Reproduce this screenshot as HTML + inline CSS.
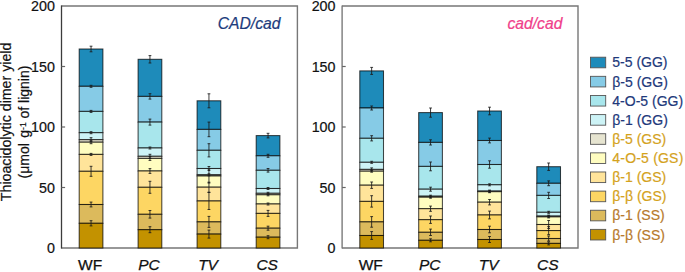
<!DOCTYPE html>
<html><head><meta charset="utf-8"><style>
html,body{margin:0;padding:0;background:#fff;}
body{width:685px;height:272px;overflow:hidden;font-family:"Liberation Sans", sans-serif;}
svg{display:block;}
</style></head><body>
<svg width="685" height="272" viewBox="0 0 685 272" font-family="'Liberation Sans', sans-serif">
<rect width="685" height="272" fill="#fff"/>
<path d="M61.5 6.0H297.4V248.0H61.5" fill="none" stroke="#777" stroke-width="1.4"/>
<rect x="79.20" y="49.00" width="23.70" height="37.30" fill="#1E8BBA" stroke="#000" stroke-opacity="0.72" stroke-width="1.05"/>
<rect x="79.20" y="86.30" width="23.70" height="25.10" fill="#86CBE6" stroke="#000" stroke-opacity="0.72" stroke-width="1.05"/>
<rect x="79.20" y="111.40" width="23.70" height="21.30" fill="#A8E6EC" stroke="#000" stroke-opacity="0.72" stroke-width="1.05"/>
<rect x="79.20" y="132.70" width="23.70" height="7.00" fill="#CDF3F6" stroke="#000" stroke-opacity="0.72" stroke-width="1.05"/>
<rect x="79.20" y="139.70" width="23.70" height="2.50" fill="#E6E4D0" stroke="#000" stroke-opacity="0.72" stroke-width="1.05"/>
<rect x="79.20" y="142.20" width="23.70" height="12.20" fill="#FFFDC0" stroke="#000" stroke-opacity="0.72" stroke-width="1.05"/>
<rect x="79.20" y="154.40" width="23.70" height="16.90" fill="#FFE49A" stroke="#000" stroke-opacity="0.72" stroke-width="1.05"/>
<rect x="79.20" y="171.30" width="23.70" height="33.20" fill="#FDD663" stroke="#000" stroke-opacity="0.72" stroke-width="1.05"/>
<rect x="79.20" y="204.50" width="23.70" height="18.80" fill="#DCBA5C" stroke="#000" stroke-opacity="0.72" stroke-width="1.05"/>
<rect x="79.20" y="223.30" width="23.70" height="24.70" fill="#C39200" stroke="#000" stroke-opacity="0.72" stroke-width="1.05"/>
<path d="M91.05 46.20V51.80M89.65 46.20h2.8M89.65 51.80h2.8" stroke="#1a1a1a" stroke-width="0.85" fill="none"/>
<path d="M91.05 85.30V87.30M89.65 85.30h2.8M89.65 87.30h2.8" stroke="#1a1a1a" stroke-width="0.85" fill="none"/>
<path d="M91.05 110.40V112.40M89.65 110.40h2.8M89.65 112.40h2.8" stroke="#1a1a1a" stroke-width="0.85" fill="none"/>
<path d="M91.05 131.70V133.70M89.65 131.70h2.8M89.65 133.70h2.8" stroke="#1a1a1a" stroke-width="0.85" fill="none"/>
<path d="M91.05 137.70V141.70M89.65 137.70h2.8M89.65 141.70h2.8" stroke="#1a1a1a" stroke-width="0.85" fill="none"/>
<path d="M91.05 140.70V143.70M89.65 140.70h2.8M89.65 143.70h2.8" stroke="#1a1a1a" stroke-width="0.85" fill="none"/>
<path d="M91.05 153.40V155.40M89.65 153.40h2.8M89.65 155.40h2.8" stroke="#1a1a1a" stroke-width="0.85" fill="none"/>
<path d="M91.05 166.30V176.30M89.65 166.30h2.8M89.65 176.30h2.8" stroke="#1a1a1a" stroke-width="0.85" fill="none"/>
<path d="M91.05 202.10V206.90M89.65 202.10h2.8M89.65 206.90h2.8" stroke="#1a1a1a" stroke-width="0.85" fill="none"/>
<path d="M91.05 220.70V225.90M89.65 220.70h2.8M89.65 225.90h2.8" stroke="#1a1a1a" stroke-width="0.85" fill="none"/>
<text x="90.15" y="270.1" font-size="15.5" text-anchor="middle" fill="#111" stroke="#111" stroke-width="0.25">WF</text>
<rect x="138.10" y="59.30" width="23.70" height="37.10" fill="#1E8BBA" stroke="#000" stroke-opacity="0.72" stroke-width="1.05"/>
<rect x="138.10" y="96.40" width="23.70" height="25.70" fill="#86CBE6" stroke="#000" stroke-opacity="0.72" stroke-width="1.05"/>
<rect x="138.10" y="122.10" width="23.70" height="25.90" fill="#A8E6EC" stroke="#000" stroke-opacity="0.72" stroke-width="1.05"/>
<rect x="138.10" y="148.00" width="23.70" height="8.30" fill="#CDF3F6" stroke="#000" stroke-opacity="0.72" stroke-width="1.05"/>
<rect x="138.10" y="156.30" width="23.70" height="2.10" fill="#E6E4D0" stroke="#000" stroke-opacity="0.72" stroke-width="1.05"/>
<rect x="138.10" y="158.40" width="23.70" height="12.60" fill="#FFFDC0" stroke="#000" stroke-opacity="0.72" stroke-width="1.05"/>
<rect x="138.10" y="171.00" width="23.70" height="16.30" fill="#FFE49A" stroke="#000" stroke-opacity="0.72" stroke-width="1.05"/>
<rect x="138.10" y="187.30" width="23.70" height="27.00" fill="#FDD663" stroke="#000" stroke-opacity="0.72" stroke-width="1.05"/>
<rect x="138.10" y="214.30" width="23.70" height="15.40" fill="#DCBA5C" stroke="#000" stroke-opacity="0.72" stroke-width="1.05"/>
<rect x="138.10" y="229.70" width="23.70" height="18.30" fill="#C39200" stroke="#000" stroke-opacity="0.72" stroke-width="1.05"/>
<path d="M149.95 55.60V63.00M148.55 55.60h2.8M148.55 63.00h2.8" stroke="#1a1a1a" stroke-width="0.85" fill="none"/>
<path d="M149.95 93.70V99.10M148.55 93.70h2.8M148.55 99.10h2.8" stroke="#1a1a1a" stroke-width="0.85" fill="none"/>
<path d="M149.95 119.10V125.10M148.55 119.10h2.8M148.55 125.10h2.8" stroke="#1a1a1a" stroke-width="0.85" fill="none"/>
<path d="M149.95 147.00V149.00M148.55 147.00h2.8M148.55 149.00h2.8" stroke="#1a1a1a" stroke-width="0.85" fill="none"/>
<path d="M149.95 154.30V158.30M148.55 154.30h2.8M148.55 158.30h2.8" stroke="#1a1a1a" stroke-width="0.85" fill="none"/>
<path d="M149.95 156.40V160.40M148.55 156.40h2.8M148.55 160.40h2.8" stroke="#1a1a1a" stroke-width="0.85" fill="none"/>
<path d="M149.95 168.60V173.40M148.55 168.60h2.8M148.55 173.40h2.8" stroke="#1a1a1a" stroke-width="0.85" fill="none"/>
<path d="M149.95 181.30V193.30M148.55 181.30h2.8M148.55 193.30h2.8" stroke="#1a1a1a" stroke-width="0.85" fill="none"/>
<path d="M149.95 210.50V218.10M148.55 210.50h2.8M148.55 218.10h2.8" stroke="#1a1a1a" stroke-width="0.85" fill="none"/>
<path d="M149.95 226.70V232.70M148.55 226.70h2.8M148.55 232.70h2.8" stroke="#1a1a1a" stroke-width="0.85" fill="none"/>
<text x="149.05" y="270.1" font-size="15.5" text-anchor="middle" font-style="italic" fill="#111" stroke="#111" stroke-width="0.25">PC</text>
<rect x="197.10" y="100.80" width="23.70" height="28.60" fill="#1E8BBA" stroke="#000" stroke-opacity="0.72" stroke-width="1.05"/>
<rect x="197.10" y="129.40" width="23.70" height="20.90" fill="#86CBE6" stroke="#000" stroke-opacity="0.72" stroke-width="1.05"/>
<rect x="197.10" y="150.30" width="23.70" height="18.20" fill="#A8E6EC" stroke="#000" stroke-opacity="0.72" stroke-width="1.05"/>
<rect x="197.10" y="168.50" width="23.70" height="6.30" fill="#CDF3F6" stroke="#000" stroke-opacity="0.72" stroke-width="1.05"/>
<rect x="197.10" y="174.80" width="23.70" height="1.20" fill="#E6E4D0" stroke="#000" stroke-opacity="0.72" stroke-width="1.05"/>
<rect x="197.10" y="176.00" width="23.70" height="11.20" fill="#FFFDC0" stroke="#000" stroke-opacity="0.72" stroke-width="1.05"/>
<rect x="197.10" y="187.20" width="23.70" height="13.80" fill="#FFE49A" stroke="#000" stroke-opacity="0.72" stroke-width="1.05"/>
<rect x="197.10" y="201.00" width="23.70" height="20.90" fill="#FDD663" stroke="#000" stroke-opacity="0.72" stroke-width="1.05"/>
<rect x="197.10" y="221.90" width="23.70" height="12.20" fill="#DCBA5C" stroke="#000" stroke-opacity="0.72" stroke-width="1.05"/>
<rect x="197.10" y="234.10" width="23.70" height="13.90" fill="#C39200" stroke="#000" stroke-opacity="0.72" stroke-width="1.05"/>
<path d="M208.95 93.80V107.80M207.55 93.80h2.8M207.55 107.80h2.8" stroke="#1a1a1a" stroke-width="0.85" fill="none"/>
<path d="M208.95 122.10V136.70M207.55 122.10h2.8M207.55 136.70h2.8" stroke="#1a1a1a" stroke-width="0.85" fill="none"/>
<path d="M208.95 143.70V156.90M207.55 143.70h2.8M207.55 156.90h2.8" stroke="#1a1a1a" stroke-width="0.85" fill="none"/>
<path d="M208.95 166.50V170.50M207.55 166.50h2.8M207.55 170.50h2.8" stroke="#1a1a1a" stroke-width="0.85" fill="none"/>
<path d="M208.95 173.80V175.80M207.55 173.80h2.8M207.55 175.80h2.8" stroke="#1a1a1a" stroke-width="0.85" fill="none"/>
<path d="M208.95 169.00V183.00M207.55 169.00h2.8M207.55 183.00h2.8" stroke="#1a1a1a" stroke-width="0.85" fill="none"/>
<path d="M208.95 182.20V192.20M207.55 182.20h2.8M207.55 192.20h2.8" stroke="#1a1a1a" stroke-width="0.85" fill="none"/>
<path d="M208.95 192.50V209.50M207.55 192.50h2.8M207.55 209.50h2.8" stroke="#1a1a1a" stroke-width="0.85" fill="none"/>
<path d="M208.95 216.40V227.40M207.55 216.40h2.8M207.55 227.40h2.8" stroke="#1a1a1a" stroke-width="0.85" fill="none"/>
<path d="M208.95 230.10V238.10M207.55 230.10h2.8M207.55 238.10h2.8" stroke="#1a1a1a" stroke-width="0.85" fill="none"/>
<text x="208.05" y="270.1" font-size="15.5" text-anchor="middle" font-style="italic" fill="#111" stroke="#111" stroke-width="0.25">TV</text>
<rect x="256.20" y="135.60" width="23.70" height="20.20" fill="#1E8BBA" stroke="#000" stroke-opacity="0.72" stroke-width="1.05"/>
<rect x="256.20" y="155.80" width="23.70" height="14.50" fill="#86CBE6" stroke="#000" stroke-opacity="0.72" stroke-width="1.05"/>
<rect x="256.20" y="170.30" width="23.70" height="18.20" fill="#A8E6EC" stroke="#000" stroke-opacity="0.72" stroke-width="1.05"/>
<rect x="256.20" y="188.50" width="23.70" height="4.80" fill="#CDF3F6" stroke="#000" stroke-opacity="0.72" stroke-width="1.05"/>
<rect x="256.20" y="193.30" width="23.70" height="1.50" fill="#E6E4D0" stroke="#000" stroke-opacity="0.72" stroke-width="1.05"/>
<rect x="256.20" y="194.80" width="23.70" height="9.20" fill="#FFFDC0" stroke="#000" stroke-opacity="0.72" stroke-width="1.05"/>
<rect x="256.20" y="204.00" width="23.70" height="9.40" fill="#FFE49A" stroke="#000" stroke-opacity="0.72" stroke-width="1.05"/>
<rect x="256.20" y="213.40" width="23.70" height="14.80" fill="#FDD663" stroke="#000" stroke-opacity="0.72" stroke-width="1.05"/>
<rect x="256.20" y="228.20" width="23.70" height="9.00" fill="#DCBA5C" stroke="#000" stroke-opacity="0.72" stroke-width="1.05"/>
<rect x="256.20" y="237.20" width="23.70" height="10.80" fill="#C39200" stroke="#000" stroke-opacity="0.72" stroke-width="1.05"/>
<path d="M268.05 133.30V137.90M266.65 133.30h2.8M266.65 137.90h2.8" stroke="#1a1a1a" stroke-width="0.85" fill="none"/>
<path d="M268.05 154.30V157.30M266.65 154.30h2.8M266.65 157.30h2.8" stroke="#1a1a1a" stroke-width="0.85" fill="none"/>
<path d="M268.05 168.50V172.10M266.65 168.50h2.8M266.65 172.10h2.8" stroke="#1a1a1a" stroke-width="0.85" fill="none"/>
<path d="M268.05 187.50V189.50M266.65 187.50h2.8M266.65 189.50h2.8" stroke="#1a1a1a" stroke-width="0.85" fill="none"/>
<path d="M268.05 192.30V194.30M266.65 192.30h2.8M266.65 194.30h2.8" stroke="#1a1a1a" stroke-width="0.85" fill="none"/>
<path d="M268.05 193.80V195.80M266.65 193.80h2.8M266.65 195.80h2.8" stroke="#1a1a1a" stroke-width="0.85" fill="none"/>
<path d="M268.05 203.00V205.00M266.65 203.00h2.8M266.65 205.00h2.8" stroke="#1a1a1a" stroke-width="0.85" fill="none"/>
<path d="M268.05 210.40V216.40M266.65 210.40h2.8M266.65 216.40h2.8" stroke="#1a1a1a" stroke-width="0.85" fill="none"/>
<path d="M268.05 226.20V230.20M266.65 226.20h2.8M266.65 230.20h2.8" stroke="#1a1a1a" stroke-width="0.85" fill="none"/>
<path d="M268.05 235.70V238.70M266.65 235.70h2.8M266.65 238.70h2.8" stroke="#1a1a1a" stroke-width="0.85" fill="none"/>
<text x="267.15" y="270.1" font-size="15.5" text-anchor="middle" font-style="italic" fill="#111" stroke="#111" stroke-width="0.25">CS</text>
<path d="M61.5 5.4V248.6" fill="none" stroke="#3c3c3c" stroke-width="1.3"/>
<text x="54.9" y="253.25" font-size="14.3" text-anchor="end" fill="#111" stroke="#111" stroke-width="0.2">0</text>
<path d="M61.5 187.50h3.6" stroke="#666" stroke-width="1.2"/>
<text x="54.9" y="192.75" font-size="14.3" text-anchor="end" fill="#111" stroke="#111" stroke-width="0.2">50</text>
<path d="M61.5 127.00h3.6" stroke="#666" stroke-width="1.2"/>
<text x="54.9" y="132.25" font-size="14.3" text-anchor="end" fill="#111" stroke="#111" stroke-width="0.2">100</text>
<path d="M61.5 66.50h3.6" stroke="#666" stroke-width="1.2"/>
<text x="54.9" y="71.75" font-size="14.3" text-anchor="end" fill="#111" stroke="#111" stroke-width="0.2">150</text>
<text x="54.9" y="11.25" font-size="14.3" text-anchor="end" fill="#111" stroke="#111" stroke-width="0.2">200</text>
<text x="280.5" y="28.7" font-size="15.7" text-anchor="end" font-style="italic" fill="#1D3B7C" stroke="#1D3B7C" stroke-width="0.2">CAD/cad</text>
<path d="M342.1 6.0H578.0V248.0H342.1" fill="none" stroke="#777" stroke-width="1.4"/>
<rect x="359.80" y="70.90" width="23.70" height="37.10" fill="#1E8BBA" stroke="#000" stroke-opacity="0.72" stroke-width="1.05"/>
<rect x="359.80" y="108.00" width="23.70" height="30.30" fill="#86CBE6" stroke="#000" stroke-opacity="0.72" stroke-width="1.05"/>
<rect x="359.80" y="138.30" width="23.70" height="24.00" fill="#A8E6EC" stroke="#000" stroke-opacity="0.72" stroke-width="1.05"/>
<rect x="359.80" y="162.30" width="23.70" height="7.10" fill="#CDF3F6" stroke="#000" stroke-opacity="0.72" stroke-width="1.05"/>
<rect x="359.80" y="169.40" width="23.70" height="1.80" fill="#E6E4D0" stroke="#000" stroke-opacity="0.72" stroke-width="1.05"/>
<rect x="359.80" y="171.20" width="23.70" height="14.00" fill="#FFFDC0" stroke="#000" stroke-opacity="0.72" stroke-width="1.05"/>
<rect x="359.80" y="185.20" width="23.70" height="16.20" fill="#FFE49A" stroke="#000" stroke-opacity="0.72" stroke-width="1.05"/>
<rect x="359.80" y="201.40" width="23.70" height="20.50" fill="#FDD663" stroke="#000" stroke-opacity="0.72" stroke-width="1.05"/>
<rect x="359.80" y="221.90" width="23.70" height="13.60" fill="#DCBA5C" stroke="#000" stroke-opacity="0.72" stroke-width="1.05"/>
<rect x="359.80" y="235.50" width="23.70" height="12.50" fill="#C39200" stroke="#000" stroke-opacity="0.72" stroke-width="1.05"/>
<path d="M371.65 67.40V74.40M370.25 67.40h2.8M370.25 74.40h2.8" stroke="#1a1a1a" stroke-width="0.85" fill="none"/>
<path d="M371.65 106.00V110.00M370.25 106.00h2.8M370.25 110.00h2.8" stroke="#1a1a1a" stroke-width="0.85" fill="none"/>
<path d="M371.65 135.70V140.90M370.25 135.70h2.8M370.25 140.90h2.8" stroke="#1a1a1a" stroke-width="0.85" fill="none"/>
<path d="M371.65 161.30V163.30M370.25 161.30h2.8M370.25 163.30h2.8" stroke="#1a1a1a" stroke-width="0.85" fill="none"/>
<path d="M371.65 167.90V170.90M370.25 167.90h2.8M370.25 170.90h2.8" stroke="#1a1a1a" stroke-width="0.85" fill="none"/>
<path d="M371.65 170.20V172.20M370.25 170.20h2.8M370.25 172.20h2.8" stroke="#1a1a1a" stroke-width="0.85" fill="none"/>
<path d="M371.65 182.00V188.40M370.25 182.00h2.8M370.25 188.40h2.8" stroke="#1a1a1a" stroke-width="0.85" fill="none"/>
<path d="M371.65 195.70V207.10M370.25 195.70h2.8M370.25 207.10h2.8" stroke="#1a1a1a" stroke-width="0.85" fill="none"/>
<path d="M371.65 216.60V227.20M370.25 216.60h2.8M370.25 227.20h2.8" stroke="#1a1a1a" stroke-width="0.85" fill="none"/>
<path d="M371.65 231.60V239.40M370.25 231.60h2.8M370.25 239.40h2.8" stroke="#1a1a1a" stroke-width="0.85" fill="none"/>
<text x="370.75" y="270.1" font-size="15.5" text-anchor="middle" fill="#111" stroke="#111" stroke-width="0.25">WF</text>
<rect x="418.70" y="112.60" width="23.70" height="29.80" fill="#1E8BBA" stroke="#000" stroke-opacity="0.72" stroke-width="1.05"/>
<rect x="418.70" y="142.40" width="23.70" height="24.00" fill="#86CBE6" stroke="#000" stroke-opacity="0.72" stroke-width="1.05"/>
<rect x="418.70" y="166.40" width="23.70" height="22.80" fill="#A8E6EC" stroke="#000" stroke-opacity="0.72" stroke-width="1.05"/>
<rect x="418.70" y="189.20" width="23.70" height="7.00" fill="#CDF3F6" stroke="#000" stroke-opacity="0.72" stroke-width="1.05"/>
<rect x="418.70" y="196.20" width="23.70" height="1.00" fill="#E6E4D0" stroke="#000" stroke-opacity="0.72" stroke-width="1.05"/>
<rect x="418.70" y="197.20" width="23.70" height="11.50" fill="#FFFDC0" stroke="#000" stroke-opacity="0.72" stroke-width="1.05"/>
<rect x="418.70" y="208.70" width="23.70" height="11.00" fill="#FFE49A" stroke="#000" stroke-opacity="0.72" stroke-width="1.05"/>
<rect x="418.70" y="219.70" width="23.70" height="12.60" fill="#FDD663" stroke="#000" stroke-opacity="0.72" stroke-width="1.05"/>
<rect x="418.70" y="232.30" width="23.70" height="8.00" fill="#DCBA5C" stroke="#000" stroke-opacity="0.72" stroke-width="1.05"/>
<rect x="418.70" y="240.30" width="23.70" height="7.70" fill="#C39200" stroke="#000" stroke-opacity="0.72" stroke-width="1.05"/>
<path d="M430.55 108.00V117.20M429.15 108.00h2.8M429.15 117.20h2.8" stroke="#1a1a1a" stroke-width="0.85" fill="none"/>
<path d="M430.55 139.80V145.00M429.15 139.80h2.8M429.15 145.00h2.8" stroke="#1a1a1a" stroke-width="0.85" fill="none"/>
<path d="M430.55 162.00V170.80M429.15 162.00h2.8M429.15 170.80h2.8" stroke="#1a1a1a" stroke-width="0.85" fill="none"/>
<path d="M430.55 187.20V191.20M429.15 187.20h2.8M429.15 191.20h2.8" stroke="#1a1a1a" stroke-width="0.85" fill="none"/>
<path d="M430.55 195.20V197.20M429.15 195.20h2.8M429.15 197.20h2.8" stroke="#1a1a1a" stroke-width="0.85" fill="none"/>
<path d="M430.55 196.20V198.20M429.15 196.20h2.8M429.15 198.20h2.8" stroke="#1a1a1a" stroke-width="0.85" fill="none"/>
<path d="M430.55 206.10V211.30M429.15 206.10h2.8M429.15 211.30h2.8" stroke="#1a1a1a" stroke-width="0.85" fill="none"/>
<path d="M430.55 216.00V223.40M429.15 216.00h2.8M429.15 223.40h2.8" stroke="#1a1a1a" stroke-width="0.85" fill="none"/>
<path d="M430.55 229.10V235.50M429.15 229.10h2.8M429.15 235.50h2.8" stroke="#1a1a1a" stroke-width="0.85" fill="none"/>
<path d="M430.55 238.80V241.80M429.15 238.80h2.8M429.15 241.80h2.8" stroke="#1a1a1a" stroke-width="0.85" fill="none"/>
<text x="429.65" y="270.1" font-size="15.5" text-anchor="middle" font-style="italic" fill="#111" stroke="#111" stroke-width="0.25">PC</text>
<rect x="477.70" y="111.00" width="23.70" height="29.50" fill="#1E8BBA" stroke="#000" stroke-opacity="0.72" stroke-width="1.05"/>
<rect x="477.70" y="140.50" width="23.70" height="24.00" fill="#86CBE6" stroke="#000" stroke-opacity="0.72" stroke-width="1.05"/>
<rect x="477.70" y="164.50" width="23.70" height="20.30" fill="#A8E6EC" stroke="#000" stroke-opacity="0.72" stroke-width="1.05"/>
<rect x="477.70" y="184.80" width="23.70" height="6.30" fill="#CDF3F6" stroke="#000" stroke-opacity="0.72" stroke-width="1.05"/>
<rect x="477.70" y="191.10" width="23.70" height="0.60" fill="#E6E4D0" stroke="#000" stroke-opacity="0.72" stroke-width="1.05"/>
<rect x="477.70" y="191.70" width="23.70" height="10.50" fill="#FFFDC0" stroke="#000" stroke-opacity="0.72" stroke-width="1.05"/>
<rect x="477.70" y="202.20" width="23.70" height="12.80" fill="#FFE49A" stroke="#000" stroke-opacity="0.72" stroke-width="1.05"/>
<rect x="477.70" y="215.00" width="23.70" height="14.50" fill="#FDD663" stroke="#000" stroke-opacity="0.72" stroke-width="1.05"/>
<rect x="477.70" y="229.50" width="23.70" height="10.00" fill="#DCBA5C" stroke="#000" stroke-opacity="0.72" stroke-width="1.05"/>
<rect x="477.70" y="239.50" width="23.70" height="8.50" fill="#C39200" stroke="#000" stroke-opacity="0.72" stroke-width="1.05"/>
<path d="M489.55 107.20V114.80M488.15 107.20h2.8M488.15 114.80h2.8" stroke="#1a1a1a" stroke-width="0.85" fill="none"/>
<path d="M489.55 138.10V142.90M488.15 138.10h2.8M488.15 142.90h2.8" stroke="#1a1a1a" stroke-width="0.85" fill="none"/>
<path d="M489.55 160.80V168.20M488.15 160.80h2.8M488.15 168.20h2.8" stroke="#1a1a1a" stroke-width="0.85" fill="none"/>
<path d="M489.55 183.80V185.80M488.15 183.80h2.8M488.15 185.80h2.8" stroke="#1a1a1a" stroke-width="0.85" fill="none"/>
<path d="M489.55 190.10V192.10M488.15 190.10h2.8M488.15 192.10h2.8" stroke="#1a1a1a" stroke-width="0.85" fill="none"/>
<path d="M489.55 190.70V192.70M488.15 190.70h2.8M488.15 192.70h2.8" stroke="#1a1a1a" stroke-width="0.85" fill="none"/>
<path d="M489.55 199.50V204.90M488.15 199.50h2.8M488.15 204.90h2.8" stroke="#1a1a1a" stroke-width="0.85" fill="none"/>
<path d="M489.55 211.10V218.90M488.15 211.10h2.8M488.15 218.90h2.8" stroke="#1a1a1a" stroke-width="0.85" fill="none"/>
<path d="M489.55 226.20V232.80M488.15 226.20h2.8M488.15 232.80h2.8" stroke="#1a1a1a" stroke-width="0.85" fill="none"/>
<path d="M489.55 236.50V242.50M488.15 236.50h2.8M488.15 242.50h2.8" stroke="#1a1a1a" stroke-width="0.85" fill="none"/>
<text x="488.65" y="270.1" font-size="15.5" text-anchor="middle" font-style="italic" fill="#111" stroke="#111" stroke-width="0.25">TV</text>
<rect x="536.80" y="166.70" width="23.70" height="16.60" fill="#1E8BBA" stroke="#000" stroke-opacity="0.72" stroke-width="1.05"/>
<rect x="536.80" y="183.30" width="23.70" height="12.10" fill="#86CBE6" stroke="#000" stroke-opacity="0.72" stroke-width="1.05"/>
<rect x="536.80" y="195.40" width="23.70" height="16.90" fill="#A8E6EC" stroke="#000" stroke-opacity="0.72" stroke-width="1.05"/>
<rect x="536.80" y="212.30" width="23.70" height="3.80" fill="#CDF3F6" stroke="#000" stroke-opacity="0.72" stroke-width="1.05"/>
<rect x="536.80" y="216.10" width="23.70" height="0.80" fill="#E6E4D0" stroke="#000" stroke-opacity="0.72" stroke-width="1.05"/>
<rect x="536.80" y="216.90" width="23.70" height="7.60" fill="#FFFDC0" stroke="#000" stroke-opacity="0.72" stroke-width="1.05"/>
<rect x="536.80" y="224.50" width="23.70" height="6.10" fill="#FFE49A" stroke="#000" stroke-opacity="0.72" stroke-width="1.05"/>
<rect x="536.80" y="230.60" width="23.70" height="7.90" fill="#FDD663" stroke="#000" stroke-opacity="0.72" stroke-width="1.05"/>
<rect x="536.80" y="238.50" width="23.70" height="4.90" fill="#DCBA5C" stroke="#000" stroke-opacity="0.72" stroke-width="1.05"/>
<rect x="536.80" y="243.40" width="23.70" height="4.60" fill="#C39200" stroke="#000" stroke-opacity="0.72" stroke-width="1.05"/>
<path d="M548.65 163.00V170.40M547.25 163.00h2.8M547.25 170.40h2.8" stroke="#1a1a1a" stroke-width="0.85" fill="none"/>
<path d="M548.65 180.90V185.70M547.25 180.90h2.8M547.25 185.70h2.8" stroke="#1a1a1a" stroke-width="0.85" fill="none"/>
<path d="M548.65 192.30V198.50M547.25 192.30h2.8M547.25 198.50h2.8" stroke="#1a1a1a" stroke-width="0.85" fill="none"/>
<path d="M548.65 211.30V213.30M547.25 211.30h2.8M547.25 213.30h2.8" stroke="#1a1a1a" stroke-width="0.85" fill="none"/>
<path d="M548.65 215.10V217.10M547.25 215.10h2.8M547.25 217.10h2.8" stroke="#1a1a1a" stroke-width="0.85" fill="none"/>
<path d="M548.65 215.90V217.90M547.25 215.90h2.8M547.25 217.90h2.8" stroke="#1a1a1a" stroke-width="0.85" fill="none"/>
<path d="M548.65 220.50V228.50M547.25 220.50h2.8M547.25 228.50h2.8" stroke="#1a1a1a" stroke-width="0.85" fill="none"/>
<path d="M548.65 226.60V234.60M547.25 226.60h2.8M547.25 234.60h2.8" stroke="#1a1a1a" stroke-width="0.85" fill="none"/>
<path d="M548.65 236.00V241.00M547.25 236.00h2.8M547.25 241.00h2.8" stroke="#1a1a1a" stroke-width="0.85" fill="none"/>
<path d="M548.65 241.90V244.90M547.25 241.90h2.8M547.25 244.90h2.8" stroke="#1a1a1a" stroke-width="0.85" fill="none"/>
<text x="547.75" y="270.1" font-size="15.5" text-anchor="middle" font-style="italic" fill="#111" stroke="#111" stroke-width="0.25">CS</text>
<path d="M342.1 5.4V248.6" fill="none" stroke="#707070" stroke-width="1.3"/>
<text x="335.5" y="253.25" font-size="14.3" text-anchor="end" fill="#111" stroke="#111" stroke-width="0.2">0</text>
<path d="M342.1 187.50h3.6" stroke="#666" stroke-width="1.2"/>
<text x="335.5" y="192.75" font-size="14.3" text-anchor="end" fill="#111" stroke="#111" stroke-width="0.2">50</text>
<path d="M342.1 127.00h3.6" stroke="#666" stroke-width="1.2"/>
<text x="335.5" y="132.25" font-size="14.3" text-anchor="end" fill="#111" stroke="#111" stroke-width="0.2">100</text>
<path d="M342.1 66.50h3.6" stroke="#666" stroke-width="1.2"/>
<text x="335.5" y="71.75" font-size="14.3" text-anchor="end" fill="#111" stroke="#111" stroke-width="0.2">150</text>
<text x="335.5" y="11.25" font-size="14.3" text-anchor="end" fill="#111" stroke="#111" stroke-width="0.2">200</text>
<text x="562.4000000000001" y="28.7" font-size="15.7" text-anchor="end" font-style="italic" fill="#F0408A" stroke="#F0408A" stroke-width="0.2">cad/cad</text>
<rect x="590.5" y="57.20" width="15.2" height="10.6" fill="#1E8BBA" stroke="#555" stroke-width="0.9"/>
<text x="612.3" y="67.40" font-size="14" fill="#21387A" stroke="#21387A" stroke-width="0.2">5-5 (GG)</text>
<rect x="590.5" y="76.33" width="15.2" height="10.6" fill="#86CBE6" stroke="#555" stroke-width="0.9"/>
<text x="612.3" y="86.53" font-size="14" fill="#21387A" stroke="#21387A" stroke-width="0.2">β-5 (GG)</text>
<rect x="590.5" y="95.46" width="15.2" height="10.6" fill="#A8E6EC" stroke="#555" stroke-width="0.9"/>
<text x="612.3" y="105.66" font-size="14" fill="#21387A" stroke="#21387A" stroke-width="0.2">4-O-5 (GG)</text>
<rect x="590.5" y="114.59" width="15.2" height="10.6" fill="#CDF3F6" stroke="#555" stroke-width="0.9"/>
<text x="612.3" y="124.79" font-size="14" fill="#21387A" stroke="#21387A" stroke-width="0.2">β-1 (GG)</text>
<rect x="590.5" y="133.72" width="15.2" height="10.6" fill="#E6E4D0" stroke="#555" stroke-width="0.9"/>
<text x="612.3" y="143.92" font-size="14" fill="#D4A21C" stroke="#D4A21C" stroke-width="0.2">β-5 (GS)</text>
<rect x="590.5" y="152.85" width="15.2" height="10.6" fill="#FFFDC0" stroke="#555" stroke-width="0.9"/>
<text x="612.3" y="163.05" font-size="14" fill="#D4A21C" stroke="#D4A21C" stroke-width="0.2" letter-spacing="0.2">4-O-5 (GS)</text>
<rect x="590.5" y="171.98" width="15.2" height="10.6" fill="#FFE49A" stroke="#555" stroke-width="0.9"/>
<text x="612.3" y="182.18" font-size="14" fill="#D4A21C" stroke="#D4A21C" stroke-width="0.2">β-1 (GS)</text>
<rect x="590.5" y="191.11" width="15.2" height="10.6" fill="#FDD663" stroke="#555" stroke-width="0.9"/>
<text x="612.3" y="201.31" font-size="14" fill="#D4A21C" stroke="#D4A21C" stroke-width="0.2">β-β (GS)</text>
<rect x="590.5" y="210.24" width="15.2" height="10.6" fill="#DCBA5C" stroke="#555" stroke-width="0.9"/>
<text x="612.3" y="220.44" font-size="14" fill="#B77A2C" stroke="#B77A2C" stroke-width="0.2">β-1 (SS)</text>
<rect x="590.5" y="229.37" width="15.2" height="10.6" fill="#C39200" stroke="#555" stroke-width="0.9"/>
<text x="612.3" y="239.57" font-size="14" fill="#B77A2C" stroke="#B77A2C" stroke-width="0.2">β-β (SS)</text>
<g transform="translate(11.1,121.9) rotate(-90)"><text x="0" y="0" font-size="14.2" text-anchor="middle" fill="#111" stroke="#111" stroke-width="0.2">Thioacidolytic dimer yield</text></g>
<g transform="translate(28.9,122.0) rotate(-90)"><text x="0" y="0" font-size="14" text-anchor="middle" fill="#111" stroke="#111" stroke-width="0.2">(μmol<tspan dx="1.5"> g</tspan><tspan font-size="8.5" dy="-2.6">-1</tspan><tspan dy="2.6"> of lignin)</tspan></text></g>
</svg>
</body></html>
